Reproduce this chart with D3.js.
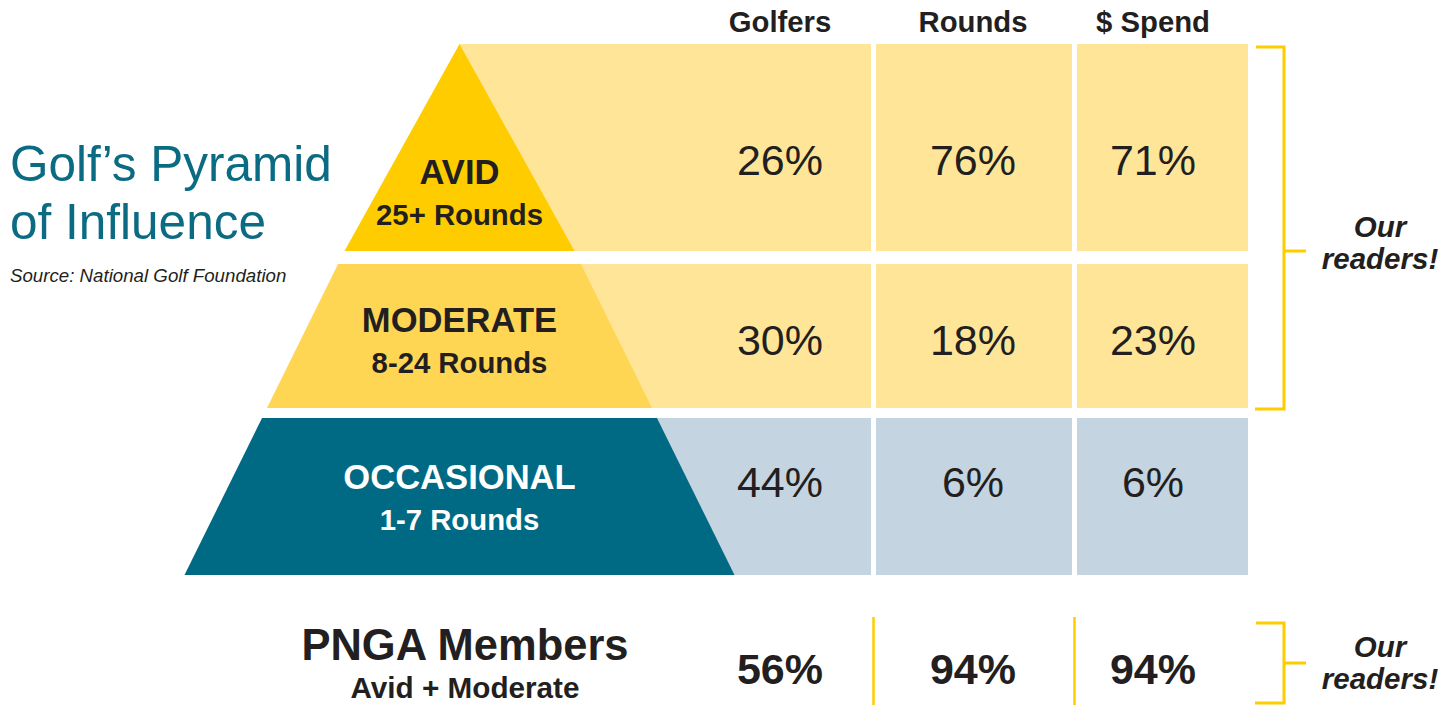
<!DOCTYPE html>
<html>
<head>
<meta charset="utf-8">
<script src="https://cdn.jsdelivr.net/npm/d3@7"></script>
<style>
  body { margin: 0; background: #fff; }
  svg { display: block; font-family: "Liberation Sans", Arial, sans-serif; }
</style>
</head>
<body>
<svg id="chart" width="1454" height="705"></svg>
<script>
// data
var tiers = ["AVID", "MODERATE", "OCCASIONAL"];
var tierRounds = ["25+ Rounds", "8-24 Rounds", "1-7 Rounds"];
var metrics = ["Golfers", "Rounds", "$ Spend"];
var golfersPct = [26, 30, 44];
var roundsPct = [76, 18, 6];
var spendPct = [71, 23, 6];
var membersPct = [56, 94, 94];

// layout
var rowTop = [44, 264, 418];
var rowBottom = [251, 408, 575];
var cx = 459.5;           // pyramid axis
var tableRight = 1248;
var colCenters = [780, 973, 1153];
var separators = [873.5, 1074.5];

var darkFill = ["#FFCC00", "#FFD653", "#006A84"];
var lightFill = ["#FFE598", "#FFE598", "#C4D4E0"];
var labelColor = ["#231F20", "#231F20", "#ffffff"];
var ink = "#231F20";
var gold = "#FFCC00";

var svg = d3.select("#chart");

// half width of the pyramid at a given y
var halfWidth = d3.scaleLinear().domain([44, 251, 575]).range([0, 115, 275]);
var xCol = d3.scaleOrdinal().domain(metrics).range(colCenters);

var rows = tiers.map(function (t, i) {
    return { name: t, sub: tierRounds[i], top: rowTop[i], bottom: rowBottom[i],
             values: [golfersPct[i], roundsPct[i], spendPct[i]], i: i };
});

// light table backgrounds
svg.selectAll("rect.bg").data(rows).enter().append("rect")
    .attr("class", "bg")
    .attr("x", cx)
    .attr("y", function (d) { return d.top; })
    .attr("width", tableRight - cx)
    .attr("height", function (d) { return d.bottom - d.top; })
    .attr("fill", function (d) { return lightFill[d.i]; });

// column separators
svg.selectAll("line.sep").data(separators).enter().append("line")
    .attr("x1", function (d) { return d; }).attr("x2", function (d) { return d; })
    .attr("y1", rowTop[0]).attr("y2", rowBottom[2])
    .attr("stroke", "#fff").attr("stroke-width", 5);

// pyramid pieces
svg.selectAll("path.tier").data(rows).enter().append("path")
    .attr("class", "tier")
    .attr("d", function (d) {
        var t = halfWidth(d.top), b = halfWidth(d.bottom);
        return d3.line()([[cx - t, d.top], [cx + t, d.top], [cx + b, d.bottom], [cx - b, d.bottom]]) + "Z";
    })
    .attr("fill", function (d) { return darkFill[d.i]; });

var labelY = [[184, 225], [332, 373], [489, 530]];
rows.forEach(function (d) {
    svg.append("text")
        .attr("x", cx).attr("y", labelY[d.i][0])
        .attr("text-anchor", "middle")
        .attr("font-size", 34.6).attr("font-weight", "bold")
        .attr("fill", labelColor[d.i])
        .text(d.name);
    svg.append("text")
        .attr("x", cx).attr("y", labelY[d.i][1])
        .attr("text-anchor", "middle")
        .attr("font-size", 29.3).attr("font-weight", "bold")
        .attr("fill", labelColor[d.i])
        .text(d.sub);
});

// values
var valueY = [175, 355, 497];
rows.forEach(function (d) {
    metrics.forEach(function (m, j) {
        svg.append("text")
            .attr("x", xCol(m)).attr("y", valueY[d.i])
            .attr("text-anchor", "middle")
            .attr("font-size", 43)
            .attr("fill", ink)
            .text(d.values[j] + "%");
    });
});

// headers
svg.selectAll("text.head").data(metrics).enter().append("text")
    .attr("class", "head")
    .attr("x", function (d) { return xCol(d); })
    .attr("y", 32)
    .attr("text-anchor", "middle")
    .attr("font-size", 29.3).attr("font-weight", "bold")
    .attr("fill", ink)
    .text(function (d) { return d; });

// title
svg.append("text").attr("x", 10).attr("y", 181)
    .attr("font-size", 49.5).attr("fill", "#0B6B83").text("Golf\u2019s Pyramid");
svg.append("text").attr("x", 10).attr("y", 239)
    .attr("font-size", 49.5).attr("fill", "#0B6B83").text("of Influence");
svg.append("text").attr("x", 10).attr("y", 282)
    .attr("font-size", 18.7).attr("font-style", "italic").attr("fill", ink)
    .text("Source: National Golf Foundation");

// bracket helper
function bracket(y0, y1, yMid, textY) {
    svg.append("path")
        .attr("d", "M1256," + y0 + "H1284V" + y1 + "H1255")
        .attr("fill", "none").attr("stroke", gold).attr("stroke-width", 3);
    svg.append("line")
        .attr("x1", 1284).attr("x2", 1306).attr("y1", yMid).attr("y2", yMid)
        .attr("stroke", gold).attr("stroke-width", 3);
    ["Our", "readers!"].forEach(function (s, k) {
        svg.append("text")
            .attr("x", 1380).attr("y", textY + k * 32)
            .attr("text-anchor", "middle")
            .attr("font-size", 29.5).attr("font-weight", "bold").attr("font-style", "italic")
            .attr("fill", ink)
            .text(s);
    });
}
bracket(47, 409, 251, 237);
bracket(623, 703, 663, 657);

// PNGA row
svg.append("text").attr("x", 465).attr("y", 660)
    .attr("text-anchor", "middle").attr("font-size", 43.5).attr("font-weight", "bold")
    .attr("fill", ink).text("PNGA Members");
svg.append("text").attr("x", 465).attr("y", 698)
    .attr("text-anchor", "middle").attr("font-size", 29.7).attr("font-weight", "bold")
    .attr("fill", ink).text("Avid + Moderate");

svg.selectAll("text.member").data(membersPct).enter().append("text")
    .attr("class", "member")
    .attr("x", function (d, j) { return xCol(metrics[j]); })
    .attr("y", 684)
    .attr("text-anchor", "middle")
    .attr("font-size", 43).attr("font-weight", "bold")
    .attr("fill", ink)
    .text(function (d) { return d + "%"; });

svg.selectAll("line.msep").data(separators).enter().append("line")
    .attr("x1", function (d) { return d; }).attr("x2", function (d) { return d; })
    .attr("y1", 617).attr("y2", 705)
    .attr("stroke", gold).attr("stroke-width", 2.5);
</script>
</body>
</html>
